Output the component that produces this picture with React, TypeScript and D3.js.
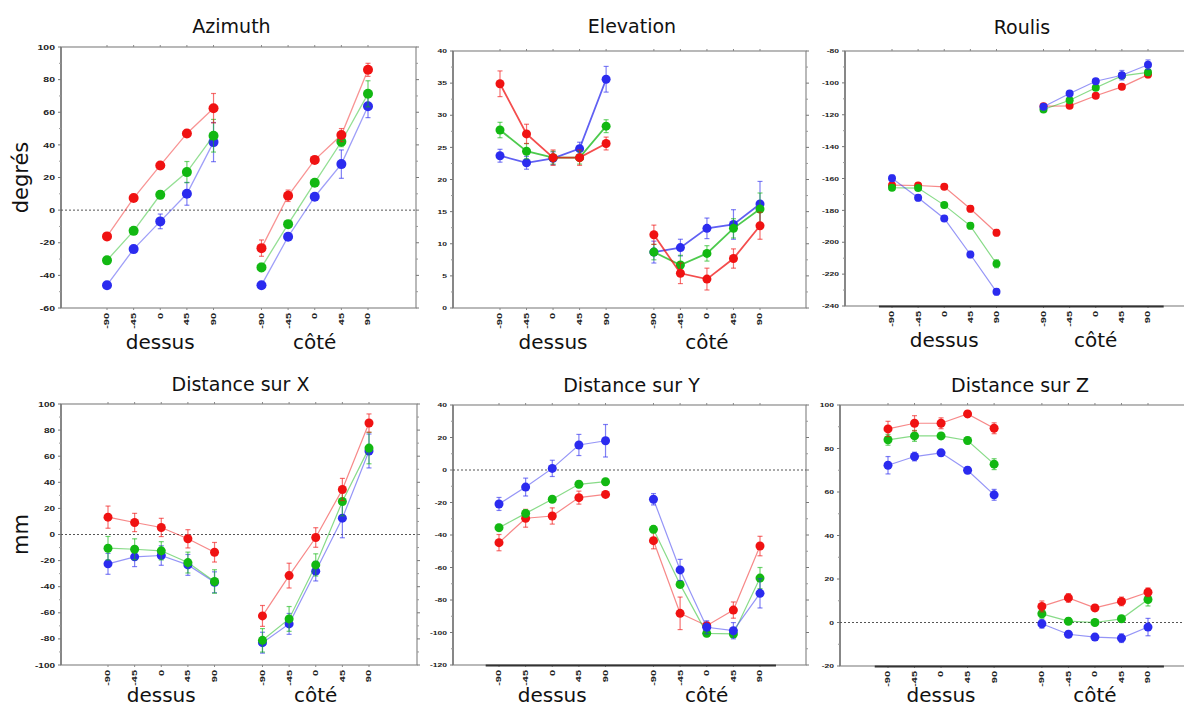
import React from "react";
import * as d3 from "d3";

const angleLabels = ["-90", "-45", "0", "45", "90"];
const groupLabels = ["dessus", "côté"];
const positions = [0, 1, 2, 3, 4, 5.8, 6.8, 7.8, 8.8, 9.8];

const azRed = [-16.1, 7.4, 27.4, 47, 62.5, -23.3, 8.8, 30.8, 46, 86];
const azRedErr = [2, 2, 1.5, 2, 9, 5, 3.5, 1.5, 4, 4];
const azGreen = [-30.8, -12.7, 9.4, 23.3, 45.6, -35.1, -8.6, 16.8, 41.9, 71.3];
const azGreenErr = [1.5, 2, 2.5, 6.5, 10, 2.5, 2, 1.5, 3, 8];
const azBlue = [-46, -23.9, -6.9, 10, 41.7, -46, -16.3, 8.2, 28.2, 63.7];
const azBlueErr = [1, 2, 4.5, 7, 12, 1, 2, 2, 8.7, 7];

const elRed = [34.9, 27.1, 23.4, 23.4, 25.6, 11.4, 5.4, 4.5, 7.7, 12.8];
const elRedErr = [2, 1.5, 1.2, 1.2, 1, 1.5, 1.6, 1.7, 1.5, 2.1];
const elGreen = [27.7, 24.4, 23.4, 23.4, 28.3, 8.7, 6.7, 8.5, 12.4, 15.4];
const elGreenErr = [1.2, 1.2, 1, 1, 1, 1.2, 1.5, 1.2, 1.5, 2.5];
const elBlue = [23.7, 22.6, 23.3, 24.8, 35.6, 8.7, 9.4, 12.4, 13, 16.2];
const elBlueErr = [1, 1, 1, 1, 2, 1.7, 1.3, 1.6, 2.3, 3.5];

const roRed = [-164.2, -164.4, -165.2, -179, -194, -114.6, -114.4, -108.1, -102.5, -94.8];
const roRedErr = [1, 1.5, 1, 2, 2, 1.5, 1, 1, 1.5, 2];
const roGreen = [-165.8, -166, -176.7, -189.7, -213.5, -116.7, -110.9, -103.1, -95.6, -93.4];
const roGreenErr = [1.5, 1.5, 1.5, 2, 2.5, 1, 1, 1.5, 1.5, 2];
const roBlue = [-159.8, -172.1, -185.1, -207.7, -231.1, -115, -106.7, -99, -95.2, -88.6];
const roBlueErr = [2, 2, 1.5, 2, 2, 1.5, 1, 1.5, 3, 3];

const dxRed = [13.3, 9.2, 5.4, -3.3, -13.6, -62.4, -31.5, -2.3, 34.5, 85.4];
const dxRedErr = [8.5, 7, 7, 7, 7.5, 8, 9.5, 7.5, 8.5, 7];
const dxGreen = [-10.5, -11.3, -12.5, -21.5, -36, -81.1, -64.7, -23.3, 25.3, 66.2];
const dxGreenErr = [9, 8, 7, 8, 9, 9, 9.5, 8.5, 11, 12];
const dxBlue = [-22.5, -17.1, -16.1, -23.3, -36.6, -82.9, -68.5, -28.1, 12.5, 64];
const dxBlueErr = [8, 7.5, 7.5, 8, 8, 8, 8, 7.5, 15, 13];

const dyRed = [-44.7, -29.7, -28.3, -17, -15, -43.5, -88.2, -95.8, -86.2, -46.8];
const dyRedErr = [5, 5.5, 5, 4, 1.5, 5, 10, 2, 5, 6];
const dyGreen = [-35.5, -26.7, -18, -8.8, -7.2, -36.5, -70.4, -100.5, -100.9, -66.5];
const dyGreenErr = [2, 2, 1.5, 2, 2, 2, 2, 2, 2, 6.5];
const dyBlue = [-20.9, -10.5, 1, 15.4, 18, -18, -61.5, -96.8, -98.9, -75.9];
const dyBlueErr = [4, 5.5, 5, 6.5, 10, 3.5, 6.5, 4, 5, 9];

const dzRed = [89, 91.6, 91.6, 95.9, 89.3, 7.4, 11.3, 6.7, 9.7, 13.9];
const dzRedErr = [3.5, 3.5, 2.5, 1.5, 2.5, 2.5, 2, 1.5, 2, 2];
const dzGreen = [84, 85.8, 85.8, 83.7, 72.8, 4, 0.6, 0, 1.7, 10.6];
const dzGreenErr = [2.5, 2.5, 1.5, 1.5, 2.5, 2, 1.5, 1, 1.5, 3];
const dzBlue = [72.3, 76.3, 78, 70, 58.7, -0.6, -5.4, -6.7, -7.2, -2.1];
const dzBlueErr = [4, 2, 1.5, 1.5, 2.5, 2, 1, 1.5, 2, 4];

const RED = "#f01212";
const GREEN = "#12b812";
const BLUE = "#2b2bef";

type Series = { color: string; values: number[]; err: number[] };
type PanelSpec = {
  title: string;
  yLabel?: string;
  x0: number; x1: number; y0: number; y1: number;
  p0: number; p1: number;
  domain: [number, number];
  step: number;
  zero: boolean;
  thick: boolean;
  r: number;
  lineOpacity: number;
  lineWidth: number;
  tickFont: number;
  titleY: number;
  series: Series[];
};

const panels: PanelSpec[] = [
  {
    title: "Azimuth", yLabel: "degrés",
    x0: 61, x1: 416, y0: 47, y1: 308, p0: 107, p1: 368,
    domain: [-60, 100], step: 20, zero: true, thick: false, r: 5,
    lineOpacity: 0.45, lineWidth: 1.3, tickFont: 10.5, titleY: 33,
    series: [
      { color: BLUE, values: azBlue, err: azBlueErr },
      { color: GREEN, values: azGreen, err: azGreenErr },
      { color: RED, values: azRed, err: azRedErr },
    ],
  },
  {
    title: "Elevation",
    x0: 453, x1: 806, y0: 51, y1: 308, p0: 500, p1: 760,
    domain: [0, 40], step: 5, zero: false, thick: false, r: 4.5,
    lineOpacity: 0.75, lineWidth: 1.8, tickFont: 8.5, titleY: 33,
    series: [
      { color: BLUE, values: elBlue, err: elBlueErr },
      { color: GREEN, values: elGreen, err: elGreenErr },
      { color: RED, values: elRed, err: elRedErr },
    ],
  },
  {
    title: "Roulis",
    x0: 845, x1: 1196, y0: 51, y1: 306, p0: 892, p1: 1148,
    domain: [-240, -80], step: 20, zero: false, thick: true, r: 4,
    lineOpacity: 0.5, lineWidth: 1.2, tickFont: 8.5, titleY: 34,
    series: [
      { color: RED, values: roRed, err: roRedErr },
      { color: GREEN, values: roGreen, err: roGreenErr },
      { color: BLUE, values: roBlue, err: roBlueErr },
    ],
  },
  {
    title: "Distance sur X", yLabel: "mm",
    x0: 61, x1: 417, y0: 404, y1: 665, p0: 108, p1: 369,
    domain: [-100, 100], step: 20, zero: true, thick: false, r: 4.5,
    lineOpacity: 0.5, lineWidth: 1.2, tickFont: 10, titleY: 391,
    series: [
      { color: BLUE, values: dxBlue, err: dxBlueErr },
      { color: GREEN, values: dxGreen, err: dxGreenErr },
      { color: RED, values: dxRed, err: dxRedErr },
    ],
  },
  {
    title: "Distance sur Y",
    x0: 453, x1: 806, y0: 405, y1: 665, p0: 499, p1: 760,
    domain: [-120, 40], step: 20, zero: true, thick: true, r: 4.5,
    lineOpacity: 0.5, lineWidth: 1.2, tickFont: 8.5, titleY: 392,
    series: [
      { color: RED, values: dyRed, err: dyRedErr },
      { color: GREEN, values: dyGreen, err: dyGreenErr },
      { color: BLUE, values: dyBlue, err: dyBlueErr },
    ],
  },
  {
    title: "Distance sur Z",
    x0: 840, x1: 1196, y0: 405, y1: 666, p0: 888, p1: 1148,
    domain: [-20, 100], step: 20, zero: true, thick: true, r: 4.5,
    lineOpacity: 0.5, lineWidth: 1.2, tickFont: 8.5, titleY: 392,
    series: [
      { color: BLUE, values: dzBlue, err: dzBlueErr },
      { color: GREEN, values: dzGreen, err: dzGreenErr },
      { color: RED, values: dzRed, err: dzRedErr },
    ],
  },
];

const FONT = "'DejaVu Sans', Verdana, sans-serif";
const TICKFONT = "'Liberation Sans', Arial, sans-serif";

function Panel({ p }: { p: PanelSpec }) {
  const x = d3.scaleLinear().domain([0, 9.8]).range([p.p0, p.p1]);
  const y = d3.scaleLinear().domain(p.domain).range([p.y1, p.y0]);
  const major = d3.range(p.domain[0], p.domain[1] + p.step / 2, p.step);
  const minor = d3.range(p.domain[0] + p.step / 2, p.domain[1], p.step);
  const line = d3.line<[number, number]>().x((d) => d[0]).y((d) => d[1]);
  const groups = [0, 1];
  const groupY = Math.min(p.y1 + 41, 702);
  return (
    <g>
      <text x={(x(0) + x(9.8)) / 2 + (p.title === "Azimuth" ? -6 : 2)} y={p.titleY} textAnchor="middle"
        fontFamily={FONT} fontSize={19} fill="#111">{p.title}</text>
      {p.yLabel && (
        <text transform={`translate(${28},${(p.y0 + p.y1) / 2})) rotate(-90)`.replace("))", ")")}
          textAnchor="middle" fontFamily={FONT} fontSize={21} fill="#111">{p.yLabel}</text>
      )}
      <rect x={p.x0} y={p.y0} width={p.x1 - p.x0} height={p.y1 - p.y0} fill="none" stroke="#8a8a8a" strokeWidth={1.2} />
      <line x1={p.x0} x2={p.x0} y1={p.y0} y2={p.y1} stroke="#777" strokeWidth={1.5} />
      {major.map((v) => (
        <g key={"M" + v}>
          <line x1={p.x0 - 3} x2={p.x0} y1={y(v)} y2={y(v)} stroke="#777" />
          <line x1={p.x1} x2={p.x1 + 3} y1={y(v)} y2={y(v)} stroke="#777" />
          <text transform={`translate(${p.x0 - 6},${y(v)}) scale(1,0.72)`} dy="0.35em" textAnchor="end"
            fontFamily={TICKFONT} fontWeight="bold" fontSize={p.tickFont} fill="#222">{v}</text>
        </g>
      ))}
      {minor.map((v) => (
        <g key={"m" + v}>
          <line x1={p.x0 - 2} x2={p.x0} y1={y(v)} y2={y(v)} stroke="#999" />
          <line x1={p.x1} x2={p.x1 + 2} y1={y(v)} y2={y(v)} stroke="#999" />
        </g>
      ))}
      {positions.map((pos, i) => (
        <g key={"xt" + i}>
          <line x1={x(pos)} x2={x(pos)} y1={p.y0 - 2} y2={p.y0} stroke="#888" />
          <line x1={x(pos)} x2={x(pos)} y1={p.y1} y2={p.y1 + 2} stroke="#888" />
          <text transform={`translate(${x(pos)},${p.y1 + 5}) rotate(-90) scale(1,0.62)`} dy="0.35em" textAnchor="end"
            fontFamily={TICKFONT} fontWeight="bold" fontSize={11} fill="#222">{angleLabels[i % 5]}</text>
        </g>
      ))}
      {p.thick && (
        <line x1={x(-0.5)} x2={x(10.4)} y1={p.y1 + 0.5} y2={p.y1 + 0.5} stroke="#333" strokeWidth={2.2} />
      )}
      {groupLabels.map((g, gi) => (
        <text key={g} x={x(positions[gi * 5 + 2])} y={groupY} textAnchor="middle"
          fontFamily={FONT} fontSize={20} fill="#111">{g}</text>
      ))}
      {p.zero && (
        <line x1={p.x0} x2={p.x1} y1={y(0)} y2={y(0)} stroke="#555" strokeWidth={1} strokeDasharray="2,2" />
      )}
      {p.series.map((s, si) => (
        <g key={"s" + si}>
          {groups.map((g) => {
            const pts: [number, number][] = [0, 1, 2, 3, 4].map((k) => [x(positions[g * 5 + k]), y(s.values[g * 5 + k])]);
            return <path key={g} d={line(pts) || ""} fill="none" stroke={s.color} strokeOpacity={p.lineOpacity} strokeWidth={p.lineWidth} />;
          })}
          {s.values.map((v, i) => {
            const cx = x(positions[i]);
            const e = s.err[i];
            return (
              <g key={i} stroke={s.color} strokeOpacity={0.6} strokeWidth={1.2}>
                <line x1={cx} x2={cx} y1={y(v + e)} y2={y(v - e)} />
                <line x1={cx - 2.5} x2={cx + 2.5} y1={y(v + e)} y2={y(v + e)} />
                <line x1={cx - 2.5} x2={cx + 2.5} y1={y(v - e)} y2={y(v - e)} />
              </g>
            );
          })}
          {s.values.map((v, i) => (
            <circle key={"c" + i} cx={x(positions[i])} cy={y(v)} r={p.r} fill={s.color} />
          ))}
        </g>
      ))}
    </g>
  );
}

export default function App() {
  return (
    <svg width={1184} height={708} style={{ position: "absolute", left: 0, top: 0, background: "#fff" }}>
      <rect x={0} y={0} width={1184} height={708} fill="#fff" />
      {panels.map((p) => (
        <Panel key={p.title} p={p} />
      ))}
    </svg>
  );
}
